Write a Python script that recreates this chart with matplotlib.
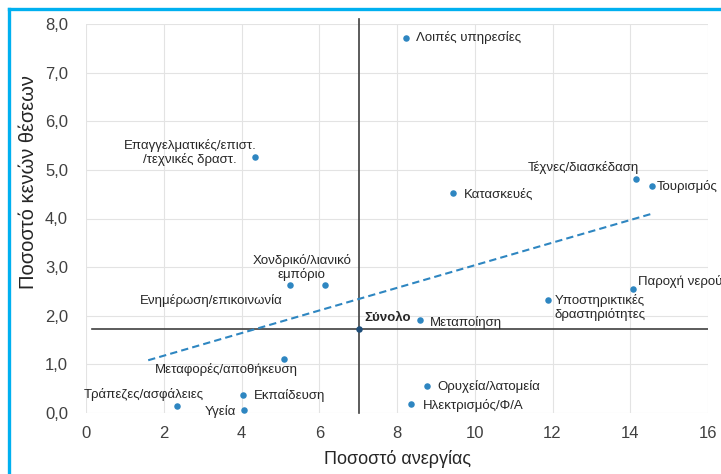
import matplotlib
matplotlib.use("Agg")
import matplotlib.pyplot as plt
import numpy as np
from matplotlib.lines import Line2D

plt.rcParams['font.family'] = ['Liberation Sans', 'DejaVu Sans']

# κλάδοι: ποσοστό ανεργίας (x), ποσοστό κενών θέσεων (y)
sectors = ["Λοιπές υπηρεσίες", "Επαγγελματικές/επιστ.\n/τεχνικές δραστ.", "Τέχνες/διασκέδαση",
           "Τουρισμός", "Κατασκευές", "Χονδρικό/λιανικό\nεμπόριο", "Ενημέρωση/επικοινωνία",
           "Μεταφορές/αποθήκευση", "Τράπεζες/ασφάλειες", "Εκπαίδευση", "Υγεία",
           "Μεταποίηση", "Ορυχεία/λατομεία", "Ηλεκτρισμός/Φ/Α",
           "Υποστηρικτικές\nδραστηριότητες", "Παροχή νερού"]
unemployment = [8.23, 4.35, 14.15, 14.57, 9.43, 6.14, 5.24, 5.10, 2.33, 4.05, 4.07,
                8.60, 8.78, 8.37, 11.88, 14.07]
vacancies = [7.72, 5.27, 4.81, 4.66, 4.52, 2.63, 2.63, 1.11, 0.15, 0.38, 0.06,
             1.91, 0.56, 0.19, 2.33, 2.56]
total_x, total_y = 7.02, 1.72

x_ticks = [0, 2, 4, 6, 8, 10, 12, 14, 16]
y_ticks = [0, 1, 2, 3, 4, 5, 6, 7, 8]

# θέση ετικετών (offset σε pixels, ευθυγράμμιση)
label_pos = [(10, 0, 'left'), (-65, 4, 'center'), (-53, 12, 'center'),
             (4, 0, 'left'), (11, -2, 'left'), (-23, 18, 'center'), (-7, -15, 'right'),
             (-58, -10, 'center'), (-33, 11, 'center'), (10, -1, 'left'), (-8, -1, 'right'),
             (10, -2, 'left'), (10, -1, 'left'), (11, -2, 'left'), (7, -8, 'left'),
             (5, 7, 'left')]

fig = plt.figure(figsize=(7.21, 4.74), dpi=100)
ax = fig.add_axes([86/721, 1-413/474, 622/721, 389/474])

ax.set_xlim(0, 16)
ax.set_ylim(0, 8)
ax.set_xticks(x_ticks)
ax.set_yticks(y_ticks)
ax.set_yticklabels([f"{v:.1f}".replace('.', ',') for v in y_ticks])
ax.tick_params(length=0, labelsize=12, colors='#404040')
ax.tick_params(axis='x', pad=9)
ax.tick_params(axis='y', pad=13)
ax.grid(True, color='#e3e3e3', linewidth=0.8)
ax.set_axisbelow(True)
for s in ax.spines.values():
    s.set_visible(False)

ax.set_xlabel("Ποσοστό ανεργίας", fontsize=13, color='#262626', labelpad=7)
ax.set_ylabel("Ποσοστό κενών θέσεων", fontsize=14.5, color='#262626')
ax.yaxis.set_label_coords(-0.077, 0.593)

# γραμμές μέσου όρου
ax.plot([total_x, total_x], [0, 8.1], color='#404040', lw=1.2, zorder=2, clip_on=False)
ax.plot([0.15, 16], [total_y, total_y], color='#404040', lw=1.2, zorder=2)

# γραμμή τάσης
slope, icpt = np.polyfit(unemployment, vacancies, 1)
tx = np.array([1.6, max(unemployment)])
ax.plot(tx, slope * tx + icpt, ls=(0, (3.5, 2)), color='#2e86c1', lw=1.5, zorder=3)

ax.scatter(unemployment, vacancies, s=22, color='#2e86c1', zorder=4, linewidths=0)
ax.scatter([total_x], [total_y], s=22, color='#1f4e79', zorder=4, linewidths=0)

for name, xv, yv, (dx, dy, ha) in zip(sectors, unemployment, vacancies, label_pos):
    ax.annotate(name, (xv, yv), xytext=(dx, dy), textcoords='offset pixels',
                ha=ha, va='center', multialignment=ha,
                fontsize=9.5, color='#262626', annotation_clip=False, linespacing=1.1)
ax.annotate("Σύνολο", (total_x, total_y), xytext=(5, 11), textcoords='offset pixels',
            ha='left', va='center', fontsize=9.5, fontweight='bold', color='#262626')

# μπλε πλαίσιο (αριστερά & πάνω)
bc = '#00b0f0'
fig.add_artist(Line2D([9/721, 9/721], [0, 1-9/474], transform=fig.transFigure, color=bc, lw=2.4))
fig.add_artist(Line2D([9/721, 1], [1-9/474, 1-9/474], transform=fig.transFigure, color=bc, lw=2.4))

fig.savefig("out.png", dpi=100)
